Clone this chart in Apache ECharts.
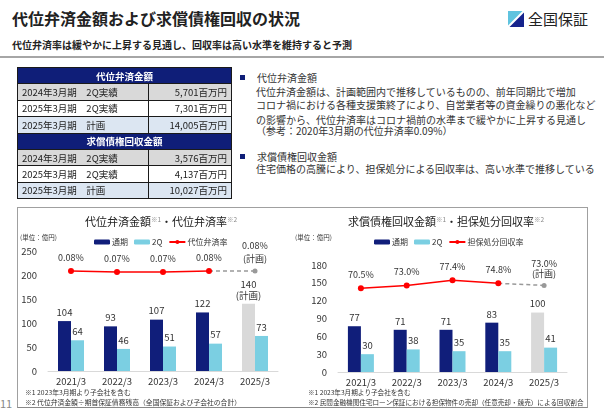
<!DOCTYPE html>
<html>
<head>
<meta charset="utf-8">
<script src="https://cdn.jsdelivr.net/npm/echarts@6.0.0/dist/echarts.min.js"></script>
<style>
  html, body { margin: 0; padding: 0; background: #fff; }
  body { width: 604px; height: 416px; position: relative; overflow: hidden;
         font-family: "Noto Sans CJK JP", "Noto Sans", sans-serif; color: #222; }
  .abs { position: absolute; white-space: nowrap; }
  #title { left: 12px; top: 7px; font-size: 16px; font-weight: bold; line-height: 22px; }
  #sub { left: 12px; top: 38px; font-size: 10px; font-weight: bold; line-height: 14px; }
  #rule { left: 0; top: 56px; width: 604px; height: 2px; background: #a6a6a6; }
  #logo { left: 508px; top: 11px; width: 16px; height: 16px; }
  #logoText { left: 528px; top: 8px; font-size: 15px; line-height: 22px; color: #222; }
  table { position: absolute; left: 17px; top: 67px; width: 215px; border-collapse: collapse;
          font-size: 9.5px; z-index: 2; }
  td { border: 1px solid #1a1a1a; height: 15.4px; padding: 0 4px; line-height: 14px; }
  td.h { background: #0f1e78; color: #fff; font-weight: bold; text-align: center; }
  td.v { text-align: right; }
  tr.g td { background: #d9d9d9; }
  tr.w td { background: #fff; }
  tr.b td { background: #dce6f2; }
  .txt { font-size: 10px; line-height: 12px; color: #333; }
  .sq { width: 5px; height: 5px; background: #0f1e78; }
  #box { left: 17px; top: 207px; width: 569px; height: 199px; border: 1px solid #a0a0a0; border-bottom-color: #888; }
  #page { left: 0; top: 396px; font-size: 11px; color: #888; line-height: 14px; }
  #chart { position: absolute; left: 0; top: 0; width: 604px; height: 416px; z-index: 1; }
</style>
</head>
<body>
<div class="abs" id="title">代位弁済金額および求償債権回収の状況</div>
<div class="abs" id="sub">代位弁済率は緩やかに上昇する見通し、回収率は高い水準を維持すると予測</div>
<div class="abs" id="rule"></div>
<svg class="abs" id="logo" viewBox="0 0 16 16">
  <polygon points="0,0 14.5,0 0,14.5" fill="#5fc3df"/>
  <polygon points="16,1.5 16,16 1.5,16" fill="#16238c"/>
</svg>
<div class="abs" id="logoText">全国保証</div>

<table>
  <tr><td class="h" colspan="2">代位弁済金額</td></tr>
  <tr class="g"><td>2024年3月期　2Q実績</td><td class="v">5,701百万円</td></tr>
  <tr class="w"><td>2025年3月期　2Q実績</td><td class="v">7,301百万円</td></tr>
  <tr class="b"><td>2025年3月期　計画</td><td class="v">14,005百万円</td></tr>
  <tr><td class="h" colspan="2">求償債権回収金額</td></tr>
  <tr class="g"><td>2024年3月期　2Q実績</td><td class="v">3,576百万円</td></tr>
  <tr class="w"><td>2025年3月期　2Q実績</td><td class="v">4,137百万円</td></tr>
  <tr class="b"><td>2025年3月期　計画</td><td class="v">10,027百万円</td></tr>
</table>

<div class="abs sq" style="left:240px; top:75px;"></div>
<div class="abs txt" style="left:257px; top:72px;">代位弁済金額</div>
<div class="abs txt" style="left:256px; top:86px;">代位弁済金額は、計画範囲内で推移しているものの、前年同期比で増加</div>
<div class="abs txt" style="left:256px; top:99px;">コロナ禍における各種支援策終了により、自営業者等の資金繰りの悪化など</div>
<div class="abs txt" style="left:256px; top:114px;">の影響から、代位弁済率はコロナ禍前の水準まで緩やかに上昇する見通し</div>
<div class="abs txt" style="left:256px; top:125px;">（参考：2020年3月期の代位弁済率0.09%）</div>
<div class="abs sq" style="left:240px; top:154px;"></div>
<div class="abs txt" style="left:257px; top:151px;">求償債権回収金額</div>
<div class="abs txt" style="left:256px; top:163px;">住宅価格の高騰により、担保処分による回収率は、高い水準で推移している</div>

<div class="abs" id="box"></div>
<div class="abs" id="page">11</div>
<div id="chart"></div>

<script>
// categories
var years = ['2021/3', '2022/3', '2023/3', '2024/3', '2025/3'];
var planIndex = 4;

// 代位弁済金額 (億円)
var subroFull = [104, 93, 107, 122, 140];
var subro2Q = [64, 46, 51, 57, 73];
var subroRate = [0.08, 0.07, 0.07, 0.08, 0.08];   // %

// 求償債権回収金額 (億円)
var recovFull = [77, 71, 71, 83, 100];
var recov2Q = [30, 38, 35, 35, 41];
var recovRate = [70.5, 73.0, 77.4, 74.8, 73.0];   // %

var leftTicks = { min: 0, max: 250, interval: 50 };
var rightTicks = { min: 0, max: 180, interval: 30 };

var NAVY = '#101e7a';
var LIGHT = '#7bcfe2';
var PLAN = '#d9d9d9';
var RED = '#ff0000';
var TXT = '#333';
var FONT = '"Noto Sans CJK JP", "Noto Sans", sans-serif';

function fullBars(vals, planLabel) {
    return vals.map(function(v, i) {
        if (i !== planIndex) return v;
        var item = { value: v, itemStyle: { color: PLAN } };
        if (planLabel) item.label = { formatter: v + '\n(計画)', lineHeight: 11, distance: 3 };
        return item;
    });
}
function solidPart(vals) {
    return vals.map(function(v, i) { return i < planIndex ? v : '-'; });
}
function dashPart(vals, labelText, lh) {
    return vals.map(function(v, i) {
        if (i < planIndex - 1) return '-';
        if (i === planIndex - 1) return { value: v, symbol: 'none', label: { show: false } };
        return { value: v, label: { show: true, formatter: labelText, lineHeight: lh } };
    });
}

var barLabel = { show: true, position: 'top', distance: 4, color: TXT, fontSize: 9.5, fontFamily: FONT };
var axisLbl = { color: TXT, fontSize: 9.5, fontFamily: FONT };

function catAxis(gi) {
    return {
        type: 'category', gridIndex: gi, data: years,
        axisLine: { lineStyle: { color: '#d9d9d9', width: 1 } },
        axisTick: { show: false },
        axisLabel: Object.assign({ margin: 6 }, axisLbl)
    };
}
function valAxis(gi, t) {
    return {
        type: 'value', gridIndex: gi, min: t.min, max: t.max, interval: t.interval,
        axisLine: { show: false }, axisTick: { show: false }, splitLine: { show: false },
        axisLabel: Object.assign({ margin: 11 }, axisLbl)
    };
}
function titleRich(a, b) {
    return {
        text: '{t|' + a + '}{s|※1}{t|・' + b + '}{s|※2}',
        textStyle: {
            fontWeight: 'normal',
            rich: {
                t: { fontSize: 11, color: '#222', fontWeight: 'normal', fontFamily: FONT },
                s: { fontSize: 6.5, color: '#888', fontWeight: 'normal', verticalAlign: 'top', fontFamily: FONT }
            }
        }
    };
}

var chart = echarts.init(document.getElementById('chart'), null, { renderer: 'canvas' });

var t1 = titleRich('代位弁済金額', '代位弁済率');
t1.left = 156; t1.top = 211; t1.textAlign = 'center';
var t2 = titleRich('求償債権回収金額', '担保処分回収率');
t2.left = 441; t2.top = 211; t2.textAlign = 'center';

var smallText = { fontSize: 6.5, fill: TXT, fontFamily: FONT };
var noteText = { fontSize: 6.8, fill: TXT, fontFamily: FONT };
var noteTextR = { fontSize: 6.6, fill: TXT, fontFamily: FONT };

var option = {
    animation: false,
    textStyle: { fontFamily: FONT },
    title: [t1, t2],
    legend: [
        {
            data: ['通期', '2Q', '代位弁済率'], left: 89, top: 233,
            itemWidth: 16, itemHeight: 5, itemGap: 6,
            textStyle: { fontSize: 8, color: TXT, fontFamily: FONT, padding: [0, 0, 0, -3] },
            selectedMode: false
        },
        {
            data: ['通期', '2Q', '担保処分回収率'], left: 369, top: 233,
            itemWidth: 16, itemHeight: 5, itemGap: 6,
            textStyle: { fontSize: 8, color: TXT, fontFamily: FONT, padding: [0, 0, 0, -3] },
            selectedMode: false
        }
    ],
    grid: [
        { left: 48, top: 251, width: 230, height: 120, outerBoundsMode: 'none' },
        { left: 338, top: 265, width: 229, height: 107, outerBoundsMode: 'none' }
    ],
    xAxis: [catAxis(0), catAxis(1)],
    yAxis: [
        valAxis(0, leftTicks),
        valAxis(1, rightTicks),
        { type: 'value', gridIndex: 0, min: -0.92, max: 0.28, show: false, splitLine: { show: false } },
        { type: 'value', gridIndex: 1, min: -1.7, max: 90.6, show: false, splitLine: { show: false } }
    ],
    graphic: [
        { type: 'text', left: 20, top: 234, style: Object.assign({ text: '(単位：億円)' }, smallText) },
        { type: 'text', left: 295, top: 234, style: Object.assign({ text: '(単位：億円)' }, smallText) },
        { type: 'text', left: 25, top: 389, style: Object.assign({ text: '※1 2023年3月期より子会社を含む' }, noteText) },
        { type: 'text', left: 25, top: 399, style: Object.assign({ text: '※2 代位弁済金額÷期首保証債務残高（全国保証および子会社の合計）' }, noteText) },
        { type: 'text', left: 308, top: 389, style: Object.assign({ text: '※1 2023年3月期より子会社を含む' }, noteTextR) },
        { type: 'text', left: 308, top: 399, style: Object.assign({ text: '※2 民間金融機関住宅ローン保証における担保物件の売却（任意売却・競売）による回収割合' }, noteTextR) }
    ],
    series: [
        {
            name: '通期', type: 'bar', xAxisIndex: 0, yAxisIndex: 0,
            barWidth: 13, barGap: '0%', itemStyle: { color: NAVY },
            label: barLabel, data: fullBars(subroFull, true)
        },
        {
            name: '2Q', type: 'bar', xAxisIndex: 0, yAxisIndex: 0,
            barWidth: 13, barGap: '0%', itemStyle: { color: LIGHT },
            label: barLabel, data: subro2Q
        },
        {
            name: '代位弁済率', type: 'line', xAxisIndex: 0, yAxisIndex: 2,
            symbol: 'circle', symbolSize: 6, itemStyle: { color: RED },
            lineStyle: { color: RED, width: 1.5 },
            label: {
                show: true, position: 'top', distance: 6, color: TXT, fontSize: 9, fontFamily: FONT,
                formatter: function(p) { return p.value.toFixed(2) + '%'; }
            },
            data: solidPart(subroRate)
        },
        {
            name: '代位弁済率計画', type: 'line', xAxisIndex: 0, yAxisIndex: 2,
            symbol: 'circle', symbolSize: 5, itemStyle: { color: '#999' },
            lineStyle: { color: '#999', width: 1.5, type: [4, 3] },
            label: { position: 'top', distance: 3, color: TXT, fontSize: 9, fontFamily: FONT },
            data: dashPart(subroRate, subroRate[planIndex].toFixed(2) + '%\n(計画)', 13)
        },
        {
            name: '通期', type: 'bar', xAxisIndex: 1, yAxisIndex: 1,
            barWidth: 13, barGap: '0%', itemStyle: { color: NAVY },
            label: barLabel, data: fullBars(recovFull, false)
        },
        {
            name: '2Q', type: 'bar', xAxisIndex: 1, yAxisIndex: 1,
            barWidth: 13, barGap: '0%', itemStyle: { color: LIGHT },
            label: barLabel, data: recov2Q
        },
        {
            name: '担保処分回収率', type: 'line', xAxisIndex: 1, yAxisIndex: 3,
            symbol: 'circle', symbolSize: 6, itemStyle: { color: RED },
            lineStyle: { color: RED, width: 1.5 },
            label: {
                show: true, position: 'top', distance: 6, color: TXT, fontSize: 9, fontFamily: FONT,
                formatter: function(p) { return p.value.toFixed(1) + '%'; }
            },
            data: solidPart(recovRate)
        },
        {
            name: '担保処分回収率計画', type: 'line', xAxisIndex: 1, yAxisIndex: 3,
            symbol: 'circle', symbolSize: 5, itemStyle: { color: '#999' },
            lineStyle: { color: '#999', width: 1.5, type: [4, 3] },
            label: { position: 'top', distance: 4, color: TXT, fontSize: 9, fontFamily: FONT },
            data: dashPart(recovRate, recovRate[planIndex].toFixed(1) + '%\n(計画)', 10)
        }
    ]
};

chart.setOption(option);
</script>
</body>
</html>
